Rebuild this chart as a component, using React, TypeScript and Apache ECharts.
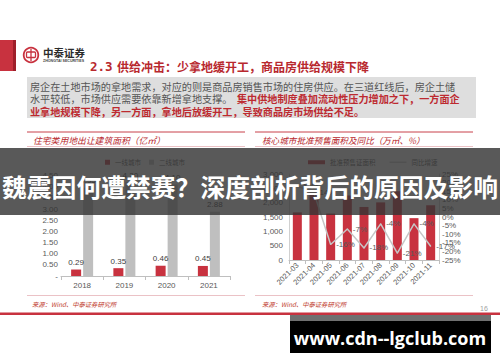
import React, { useEffect, useRef } from 'react';
import * as echarts from 'echarts';

// ---- data ----
const years = ['2018', '2019', '2020', '2021'];
const tier1Area = [0.29, 0.35, 0.46, 0.45];
const tier2Area = [3.95, 4.2, 4.1, 2.88];

const months = ['2021-03', '2021-04', '2021-05', '2021-06', '2021-07', '2021-08', '2021-09', '2021-10', '2021-11'];
const presaleArea = [1660, 2350, 1620, 2250, 1850, 2010, 2400, 1460, 1910];
const presaleYoy = [18, 14, -16, -7, -18, -4, -21, -4, -17];

const RED = '#c8323f';
const GREY = '#bfbfbf';
const LABEL = '#595959';
const LATIN = "'Liberation Sans', Arial, sans-serif";
const CJK = "'Noto Sans CJK SC', sans-serif";

const titleText = '供给冲击：少拿地缓开工，商品房供给规模下降';
const para1 = '房企在土地市场的拿地需求，对应的则是商品房销售市场的住房供应。在三道红线后，房企土储';
const para2a = '水平较低，市场供应需要依靠新增拿地支撑。';
const para2b = '集中供地制度叠加流动性压力增加之下，一方面企';
const para3 = '业拿地规模下降，另一方面，拿地后放缓开工，导致商品房市场供给不足。';
const leftTitle = '住宅类用地出让建筑面积（亿㎡）';
const rightTitle = '核心城市批准预售面积及同比（万㎡、%）';
const sourceText = '来源：Wind、中泰证券研究所';
const bannerText = '魏震因何遭禁赛？深度剖析背后的原因及影响';
const watermark = 'www.cdn--lgclub.com';

function buildOption(): any {
  const txt = (text: string, x: number, y: number, extra: any = {}) => ({
    type: 'text',
    z: extra.z ?? 10,
    style: {
      text,
      x,
      y,
      fill: extra.fill ?? '#555',
      fontSize: extra.fontSize ?? 10,
      fontFamily: extra.fontFamily ?? CJK,
      fontWeight: extra.fontWeight ?? 'normal',
      fontStyle: extra.fontStyle ?? 'normal',
      align: extra.align ?? 'left',
      verticalAlign: 'middle',
    },
  });
  const hline = (x1: number, x2: number, y: number, color: string, w: number) => ({
    type: 'line',
    z: 5,
    shape: { x1, y1: y, x2, y2: y },
    style: { stroke: color, lineWidth: w },
  });

  return {
    animation: false,
    backgroundColor: '#ffffff',
    textStyle: { fontFamily: LATIN },
    legend: [
      {
        data: ['一线城市', '二线城市'],
        left: 100,
        top: 154,
        icon: 'rect',
        itemWidth: 5,
        itemHeight: 5,
        itemGap: 8,
        textStyle: { fontSize: 6.5, color: LABEL, fontFamily: CJK },
      },
      {
        data: [
          { name: '批准预售证面积', icon: 'rect' },
          { name: '同比增速', icon: 'path://M0 0H20V1.5H0Z' },
        ],
        left: 303,
        top: 154,
        itemWidth: 17,
        itemHeight: 4,
        itemGap: 14,
        textStyle: { fontSize: 6.5, color: LABEL, fontFamily: CJK },
      },
    ],
    grid: [
      { left: 61, width: 169, top: 175.5, height: 100.5 },
      { left: 289, width: 150, top: 174, height: 86 },
    ],
    xAxis: [
      {
        type: 'category',
        gridIndex: 0,
        data: years,
        axisLine: { lineStyle: { color: GREY } },
        axisTick: { show: true, length: 4, lineStyle: { color: GREY } },
        axisLabel: { color: LABEL, fontSize: 8, margin: 5 },
      },
      {
        type: 'category',
        gridIndex: 1,
        data: months,
        axisLine: { lineStyle: { color: GREY } },
        axisTick: { show: true, length: 4, lineStyle: { color: GREY } },
        axisLabel: { color: LABEL, fontSize: 7.5, margin: 4, rotate: 45 },
      },
    ],
    yAxis: [
      {
        type: 'value',
        gridIndex: 0,
        min: 0,
        max: 4.5,
        interval: 0.5,
        splitLine: { show: false },
        axisLine: { show: false },
        axisTick: { show: false },
        axisLabel: {
          color: LABEL,
          fontSize: 8,
          margin: 3,
          formatter: (v: number) => (v === 0 ? '-' : v.toFixed(2)),
        },
      },
      {
        type: 'value',
        gridIndex: 1,
        min: 0,
        max: 3000,
        interval: 500,
        splitLine: { show: false },
        axisLine: { show: true, lineStyle: { color: '#d0d0d0' } },
        axisTick: { show: false },
        axisLabel: { color: LABEL, fontSize: 8, margin: 6 },
      },
      {
        type: 'value',
        gridIndex: 1,
        position: 'right',
        min: -25,
        max: 25,
        interval: 5,
        splitLine: { show: false },
        axisLine: { show: true, lineStyle: { color: '#d0d0d0' } },
        axisTick: { show: false },
        axisLabel: { color: LABEL, fontSize: 8, margin: 3, formatter: '{value}%' },
      },
    ],
    series: [
      {
        name: '一线城市',
        type: 'bar',
        xAxisIndex: 0,
        yAxisIndex: 0,
        data: tier1Area,
        barWidth: 10,
        barGap: '20%',
        itemStyle: { color: RED },
        label: {
          show: true,
          position: 'top',
          distance: 3,
          fontSize: 8,
          color: '#404040',
          formatter: (p: any) => Number(p.value).toFixed(2),
        },
      },
      {
        name: '二线城市',
        type: 'bar',
        xAxisIndex: 0,
        yAxisIndex: 0,
        data: tier2Area,
        barWidth: 10,
        itemStyle: { color: GREY },
        label: {
          show: true,
          position: 'top',
          distance: 3,
          fontSize: 8,
          color: '#404040',
          formatter: (p: any) => Number(p.value).toFixed(2),
        },
      },
      {
        name: '批准预售证面积',
        type: 'bar',
        xAxisIndex: 1,
        yAxisIndex: 1,
        data: presaleArea,
        barWidth: 9,
        itemStyle: { color: RED },
      },
      {
        name: '同比增速',
        type: 'line',
        xAxisIndex: 1,
        yAxisIndex: 2,
        data: presaleYoy,
        symbol: 'circle',
        symbolSize: 1,
        itemStyle: { color: '#c6c6c6' },
        lineStyle: { color: '#c6c6c6', width: 1.5 },
        label: {
          show: true,
          position: 'right',
          distance: 5,
          fontSize: 8,
          color: LABEL,
          formatter: '{c}%',
        },
        z: 3,
      },
    ],
    graphic: [
      // header band and logo
      { type: 'rect', z: 5, shape: { x: 0, y: 40, width: 13, height: 31 }, style: { fill: RED } },
      { type: 'rect', z: 5, shape: { x: 13, y: 40, width: 3, height: 31 }, style: { fill: '#9e1f2a' } },
      { type: 'circle', z: 5, shape: { cx: 31, cy: 55, r: 7.3 }, style: { fill: 'none', stroke: RED, lineWidth: 1.8 } },
      { type: 'rect', z: 5, shape: { x: 26.5, y: 52, width: 9, height: 5.5, r: 1 }, style: { fill: 'none', stroke: RED, lineWidth: 1.3 } },
      { type: 'line', z: 5, shape: { x1: 31, y1: 49, x2: 31, y2: 61 }, style: { stroke: RED, lineWidth: 1.3 } },
      txt('中泰证券', 43, 52.5, { fontSize: 10.5, fontWeight: 'bold', fill: '#2b2b2b' }),
      txt('ZHONGTAI SECURITIES', 43, 61, { fontSize: 3.6, fontFamily: LATIN, fill: '#444', fontWeight: 'bold' }),
      txt('2.3', 90, 66, { fontSize: 12.5, fontWeight: 'bold', fill: '#b8282e', fontFamily: "'DejaVu Sans Mono', monospace" }),
      txt(titleText, 117, 66, { fontSize: 12, fontWeight: 'bold', fill: '#b8282e' }),
      // paragraph box
      { type: 'rect', z: 4, shape: { x: 27, y: 77, width: 449, height: 41 }, style: { fill: '#dedede' } },
      txt(para1, 30, 86, { fontSize: 10.15, fill: '#555' }),
      txt(para2a, 30, 98.7, { fontSize: 10.15, fill: '#555' }),
      txt(para2b, 237, 98.7, { fontSize: 10.15, fill: '#bd2a30', fontWeight: 'bold' }),
      txt(para3, 30, 111.3, { fontSize: 10.15, fill: '#bd2a30', fontWeight: 'bold' }),
      // chart titles
      hline(27, 245, 132, '#c8404a', 1),
      hline(27, 245, 146.5, '#e6b3b7', 0.8),
      hline(255, 473, 132, '#c8404a', 1),
      hline(255, 473, 146.5, '#e6b3b7', 0.8),
      txt(leftTitle, 33, 140, { fontSize: 8.8, fill: '#b8282e', fontStyle: 'italic' }),
      txt(rightTitle, 262, 140, { fontSize: 8.6, fill: '#b8282e', fontStyle: 'italic' }),
      // sources
      hline(27, 245, 295.5, '#e6b3b7', 0.8),
      hline(255, 473, 295.5, '#e6b3b7', 0.8),
      txt(sourceText, 32, 304, { fontSize: 6.3, fill: '#c0392b', fontStyle: 'italic' }),
      txt(sourceText, 262, 304, { fontSize: 6.3, fill: '#c0392b', fontStyle: 'italic' }),
      txt('16', 484, 308.5, { fontSize: 7, fill: '#a0a0a0', fontFamily: LATIN, align: 'center' }),
      { type: 'rect', z: 5, shape: { x: 0, y: 312.5, width: 500, height: 2.5 }, style: { fill: RED } },
      // overlay banner
      { type: 'rect', z: 100, shape: { x: 0, y: 148, width: 500, height: 67 }, style: { fill: 'rgba(52,52,52,0.82)' } },
      txt(bannerText, 250, 186, { z: 101, fontSize: 24.8, fontWeight: 'bold', fill: '#ffffff', align: 'center' }),
      // watermark
      { type: 'rect', z: 100, shape: { x: 290, y: 315, width: 201, height: 38 }, style: { fill: '#000000' } },
      { type: 'rect', z: 100, shape: { x: 290, y: 315, width: 201, height: 6 }, style: { fill: '#707070' } },
      txt(watermark, 390, 338, { z: 101, fontSize: 18, fontWeight: 'bold', fill: '#ffffff', align: 'center', fontFamily: "'Open Sans', 'Noto Sans', sans-serif" }),
    ],
  };
}

export default function App() {
  const ref = useRef<HTMLDivElement>(null);
  useEffect(() => {
    if (!ref.current) return;
    const chart = echarts.init(ref.current, null, { renderer: 'svg' });
    chart.setOption(buildOption());
    return () => chart.dispose();
  }, []);
  return (
    <div
      ref={ref}
      style={{ position: 'fixed', left: 0, top: 0, width: 500, height: 362, background: '#ffffff' }}
    />
  );
}
